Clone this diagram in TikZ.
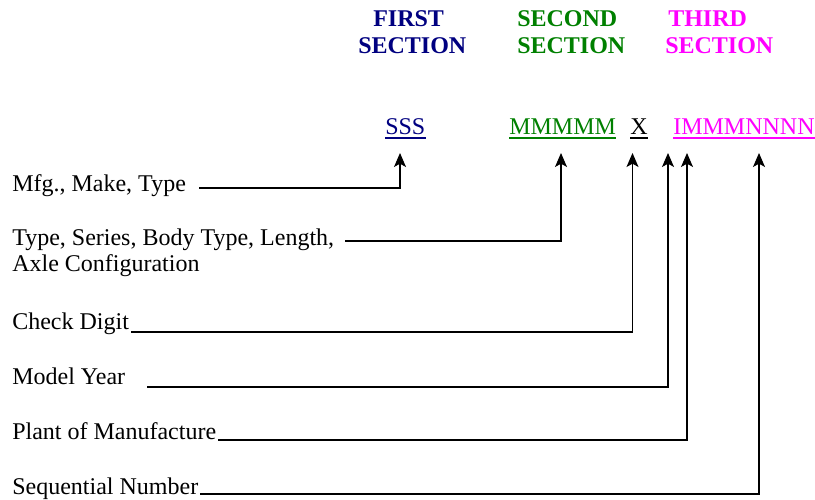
\documentclass[tikz,border=0pt]{standalone}
\usepackage{fontspec}
\setmainfont{Liberation Serif}
\usetikzlibrary{arrows.meta,calc}
\definecolor{navyc}{RGB}{0,0,128}
\definecolor{greenc}{RGB}{0,128,0}
\definecolor{magc}{RGB}{255,0,255}
\tikzset{
  txt/.style={inner sep=0pt, anchor=base west, font=\fontsize{18}{20}\selectfont},
  head/.style={txt, font=\fontsize{18}{20}\selectfont\bfseries},
  conn/.style={line width=0.9pt, -{Stealth[length=10.5pt,width=9pt,inset=2.5pt]}},
  uline/.style={line width=1.3pt}
}
\begin{document}
\begin{tikzpicture}[x=0.75pt,y=-0.75pt]
\useasboundingbox (0,0) rectangle (815,500);
% headers
\node[head,text=navyc] (h1a) at (373,26) {FIRST};
\node[head,text=navyc] (h1b) at (358,53) {SECTION};
\node[head,text=greenc] (h2a) at (517,26) {SECOND};
\node[head,text=greenc] (h2b) at (517,53) {SECTION};
\node[head,text=magc] (h3a) at (668,26) {THIRD};
\node[head,text=magc] (h3b) at (665,53) {SECTION};
% code
\node[txt,text=navyc] (sss) at (385,134) {SSS};
\node[txt,text=greenc] (mmm) at (509,134) {MMMMM};
\node[txt] (xx) at (630,134) {X};
\node[txt,text=magc] (imm) at (673,134) {IMMMNNNN};
\draw[uline,navyc] ($(sss.base west)+(0,4)$) -- ($(sss.base east)+(0,4)$);
\draw[uline,greenc] ($(mmm.base west)+(0,4)$) -- ($(mmm.base east)+(0,4)$);
\draw[uline,black] ($(xx.base west)+(0,4)$) -- ($(xx.base east)+(0,4)$);
\draw[uline,magc] ($(imm.base west)+(0,4)$) -- ($(imm.base east)+(0,4)$);
% arrow tips
\coordinate (t1) at (400,153);
\coordinate (t2) at (561,153);
\coordinate (t3) at (632.5,153);
\coordinate (t4) at (668,153);
\coordinate (t5) at (687,153);
\coordinate (t6) at (759,153);
% labels
\node[txt] (mfg) at (12,191) {Mfg., Make, Type};
\node[txt] (typ) at (12,245) {Type, Series, Body Type, Length,};
\node[txt] (axl) at (12,271) {Axle Configuration};
\node[txt] (chk) at (12,329) {Check Digit};
\node[txt] (mod) at (12,384) {Model Year};
\node[txt] (pla) at (12,439) {Plant of Manufacture};
\node[txt] (seq) at (12,494) {Sequential Number};
% line starts
\coordinate (s1) at (199,188);
\coordinate (s2) at (345,241);
\coordinate (s3) at (131,332);
\coordinate (s4) at (147,387);
\coordinate (s5) at (218,440);
\coordinate (s6) at (200,494);
\draw[conn] (s1) -| (t1);
\draw[conn] (s2) -| (t2);
\draw[conn] (s3) -| (t3);
\draw[conn] (s4) -| (t4);
\draw[conn] (s5) -| (t5);
\draw[conn] (s6) -| (t6);
\end{tikzpicture}
\end{document}
